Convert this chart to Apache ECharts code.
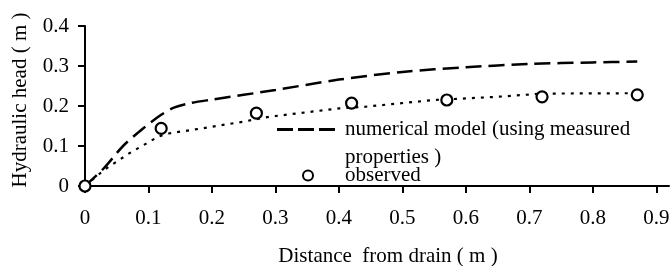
<!DOCTYPE html>
<html>
<head>
<meta charset="utf-8">
<script src="https://cdn.jsdelivr.net/npm/echarts@6/dist/echarts.min.js"></script>
<style>
  html, body { margin: 0; padding: 0; background: #fff; }
  #chart { width: 671px; height: 266px; }
</style>
</head>
<body>
<div id="chart"></div>
<script>
  // numerical model (dashed)
  var modelX = [0, 0.03, 0.06, 0.09, 0.12, 0.14, 0.165, 0.2, 0.3, 0.4, 0.5, 0.6, 0.7, 0.8, 0.87];
  var modelY = [0, 0.045, 0.1, 0.142, 0.178, 0.196, 0.207, 0.216, 0.24, 0.266, 0.285, 0.297, 0.305, 0.309, 0.311];
  // trend through observed (dotted)
  var trendX = [0, 0.03, 0.07, 0.115, 0.13, 0.18, 0.25, 0.29, 0.4, 0.44, 0.55, 0.6, 0.65, 0.72, 0.87];
  var trendY = [0, 0.04, 0.082, 0.123, 0.131, 0.143, 0.161, 0.173, 0.194, 0.198, 0.215, 0.219, 0.223, 0.231, 0.232];
  // observed
  var obsX = [0, 0.12, 0.27, 0.42, 0.57, 0.72, 0.87];
  var obsY = [0, 0.144, 0.182, 0.207, 0.215, 0.223, 0.228];
  var xTicks = [0, 0.1, 0.2, 0.3, 0.4, 0.5, 0.6, 0.7, 0.8, 0.9];

  var FONT = 'Liberation Serif';
  var SIZE = 21;

  function pairs(xs, ys) {
    return xs.map(function (x, i) { return [x, ys[i]]; });
  }

  var chart = echarts.init(document.getElementById('chart'));
  chart.setOption({
    animation: false,
    grid: { left: 85, right: 2, top: 26, bottom: 80, outerBoundsMode: 'none', containLabel: false },
    title: {
      text: 'properties )',
      left: 345,
      top: 147,
      padding: 0,
      textStyle: { fontFamily: FONT, fontSize: SIZE, fontWeight: 'normal', color: '#000' }
    },
    xAxis: {
      type: 'value',
      min: 0,
      max: 0.92,
      name: 'Distance  from drain ( m )',
      nameLocation: 'middle',
      nameGap: 60,
      nameTextStyle: { fontFamily: FONT, fontSize: SIZE, color: '#000', padding: [0, 0, 0, 22] },
      axisLine: { lineStyle: { color: '#000', width: 2 } },
      axisTick: { customValues: xTicks, length: 7, lineStyle: { color: '#000', width: 2 } },
      axisLabel: { customValues: xTicks, margin: 22, fontFamily: FONT, fontSize: SIZE, color: '#000' },
      splitLine: { show: false }
    },
    yAxis: {
      type: 'value',
      min: 0,
      max: 0.4,
      interval: 0.1,
      name: 'Hydraulic head ( m )',
      nameLocation: 'middle',
      nameGap: 54,
      nameTextStyle: { fontFamily: FONT, fontSize: SIZE, color: '#000', padding: [0, 0, 0, 12] },
      axisLine: { show: true, lineStyle: { color: '#000', width: 2 } },
      axisTick: { show: true, length: 7, lineStyle: { color: '#000', width: 2 } },
      axisLabel: { margin: 16, fontFamily: FONT, fontSize: SIZE, color: '#000' },
      splitLine: { show: false }
    },
    legend: [
      {
        data: [{
          name: 'numerical model (using measured properties )',
          icon: 'path://M0,0h16v3h-16z M21,0h16v3h-16z M42,0h16v3h-16z'
        }],
        left: 277,
        top: 119,
        padding: 0,
        itemWidth: 58,
        itemHeight: 3,
        itemStyle: { color: '#000', borderWidth: 0 },
        formatter: function () { return 'numerical model (using measured'; },
        textStyle: { fontFamily: FONT, fontSize: SIZE, color: '#000', padding: [0, 0, 0, 5] }
      },
      {
        data: ['observed'],
        left: 302,
        top: 165,
        padding: 0,
        itemWidth: 64,
        itemHeight: 10,
        textStyle: { fontFamily: FONT, fontSize: SIZE, color: '#000' }
      }
    ],
    series: [
      {
        name: 'numerical model (using measured properties )',
        type: 'line',
        data: pairs(modelX, modelY),
        smooth: 0.3,
        symbol: 'none',
        lineStyle: { color: '#000', width: 2.5, type: [16, 7] },
        itemStyle: { color: '#000' }
      },
      {
        name: 'trend',
        type: 'line',
        data: pairs(trendX, trendY),
        symbol: 'none',
        lineStyle: { color: '#000', width: 2.2, type: [3, 6] }
      },
      {
        name: 'observed',
        type: 'scatter',
        data: pairs(obsX, obsY),
        symbol: 'circle',
        symbolSize: 11,
        z: 5,
        itemStyle: { color: '#fff', borderColor: '#000', borderWidth: 2.2, opacity: 1 }
      }
    ]
  });
</script>
</body>
</html>
